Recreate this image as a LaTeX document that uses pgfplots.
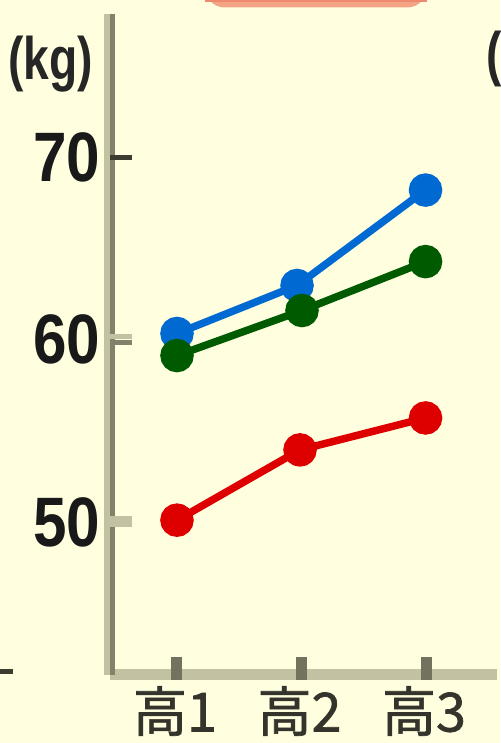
\documentclass[border=0pt]{standalone}
\usepackage{pgfplots}
\pgfplotsset{compat=1.18}
\usepackage{fontspec}
\setmainfont{Liberation Sans}
\newfontfamily\tickfont[FakeStretch=0.86]{Liberation Sans}
\newfontfamily\unitfont[FakeStretch=0.77]{Liberation Sans}
\newfontfamily\cjk[FakeBold=1.2]{Noto Sans CJK JP}

\definecolor{bg}{HTML}{FFFFE0}
\definecolor{axlight}{HTML}{C2C2A2}
\definecolor{axdark}{HTML}{82826A}
\definecolor{tickdark}{HTML}{3C3C30}
\definecolor{tickx}{HTML}{72725E}
\definecolor{cblue}{RGB}{0,105,210}
\definecolor{cgreen}{RGB}{0,90,0}
\definecolor{cred}{RGB}{222,0,0}
\definecolor{pinkbox}{HTML}{F4A484}
\definecolor{pinkdark}{HTML}{EE8A70}
\definecolor{labelc}{HTML}{34342C}

\begin{document}
\begin{tikzpicture}
% page: 500 x 743 px, 1 px = 0.5pt
\path[use as bounding box, fill=bg] (0,0) rectangle (250pt,-371.5pt);
\begin{scope}
\clip (0,0) rectangle (250pt,-371.5pt);

% bottom of a title box cut off at the top
\fill[pinkbox, rounded corners=10pt] (102.5pt,20pt) rectangle (213.5pt,-3.75pt);
\fill[pinkdark] (102.5pt,0pt) rectangle (213.5pt,-1pt);

% stray tick of the neighbouring chart
\draw[tickdark, line width=2.5pt] (0pt,-335.5pt) -- (6.5pt,-335.5pt);

\begin{axis}[
  at={(54.75pt,-337.25pt)}, anchor=south west,
  scale only axis, width=193.75pt, height=330.25pt,
  xmin=0.458, xmax=3.570, ymin=41.64, ymax=77.84,
  axis x line*=bottom, axis y line*=left,
  axis line style={draw=none},
  tick style={draw=none},
  clip=false,
  xtick={1,2,3}, xticklabels={高1,高2,高3},
  ytick={50,60,70}, yticklabels={50,60,70},
  yticklabel style={font=\tickfont\bfseries\fontsize{35}{35}\selectfont,
    anchor=east, inner sep=0pt, xshift=-4.5pt, text=black!90},
  xticklabel style={font=\cjk\fontsize{27}{27}\selectfont,
    anchor=center, inner sep=0pt, yshift=-18.25pt, xshift=-1pt, text=labelc},
]
% axis lines
\draw[axlight, line width=5.5pt] (rel axis cs:0,0) -- (rel axis cs:1,0);
\draw[axlight, line width=3pt] ([xshift=-1.25pt]rel axis cs:0,0) -- ([xshift=-1.25pt]rel axis cs:0,1);
\draw[axdark, line width=2.5pt] ([xshift=1.5pt]rel axis cs:0,0) -- ([xshift=1.5pt]rel axis cs:0,1);

% x ticks
\foreach \k in {1,2,3} {
  \edef\tmp{\noexpand\draw[tickx, line width=5.5pt] ([yshift=-2.75pt]axis cs:\k,41.64) -- ([yshift=8.75pt]axis cs:\k,41.64);}
  \tmp
}
% y ticks
\draw[tickdark, line width=2.5pt] (axis cs:0.458,70) -- ([xshift=11pt]axis cs:0.458,70);
\draw[axlight, line width=2.75pt] ([yshift=1.4pt]axis cs:0.458,60) -- ([xshift=11pt,yshift=1.4pt]axis cs:0.458,60);
\draw[axdark, line width=2.75pt] ([yshift=-1.4pt]axis cs:0.458,60) -- ([xshift=11pt,yshift=-1.4pt]axis cs:0.458,60);
\draw[axlight, line width=5.5pt] (axis cs:0.458,50) -- ([xshift=11pt]axis cs:0.458,50);

% series
\addplot[cblue, line width=3.75pt, mark=*, mark size=6.5pt, mark options={solid}]
  coordinates {(1,60.33) (1.964,62.96) (2.996,68.19)};
\addplot[cgreen, line width=3.75pt, mark=*, mark size=6.5pt, mark options={solid}]
  coordinates {(1,59.12) (2.004,61.59) (2.996,64.27)};
\addplot[cred, line width=3.75pt, mark=*, mark size=6.5pt, mark options={solid}]
  coordinates {(1,50.1) (1.988,53.95) (2.996,55.7)};
\end{axis}

% unit label and cut-off label of the next chart
\node[font=\unitfont\bfseries\fontsize{30}{30}\selectfont, text=black!85] at (25.25pt,-32.25pt) {(kg)};
\node[anchor=west, inner sep=0pt, font=\unitfont\bfseries\fontsize{30}{30}\selectfont, text=black!85] at (243pt,-29.5pt) {(};
\end{scope}
\end{tikzpicture}
\end{document}
